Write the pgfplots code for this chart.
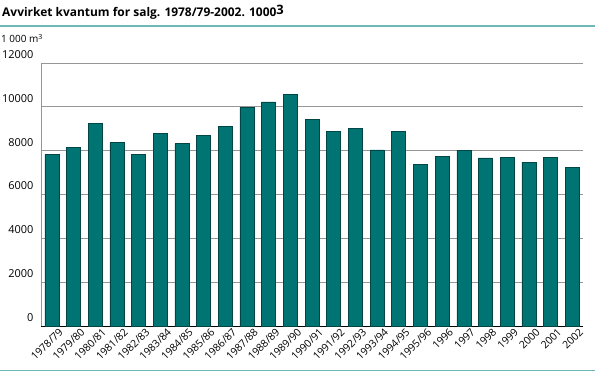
\documentclass[border=0pt]{standalone}
\usepackage{fontspec}
\setmainfont{Open Sans}
\usepackage{pgfplots}
\pgfplotsset{compat=1.18}
\definecolor{barfill}{RGB}{0,115,115}
\definecolor{baredge}{RGB}{0,70,70}
\definecolor{rulecol}{RGB}{110,185,185}
\definecolor{gridcol}{RGB}{150,150,150}
\begin{document}
\begin{tikzpicture}
\useasboundingbox (0,0) rectangle (595bp,372bp);
\node[anchor=base west, inner sep=0pt, font=\fontsize{12}{14}\selectfont\bfseries] at (2bp,355bp)
  {Avvirket kvantum for salg. 1978/79-2002. 1000\raisebox{0.45ex}{\fontsize{13}{14}\selectfont 3}};
\draw[rulecol, line width=1.5bp] (0,346bp) -- (595bp,346bp);
\draw[rulecol, line width=1.5bp] (0,1.5bp) -- (595bp,1.5bp);
\node[anchor=base west, inner sep=0pt, font=\fontsize{10}{12}\selectfont] at (1bp,329bp) {1 000 m\textsuperscript{3}};
\begin{axis}[
  at={(41bp,46bp)}, anchor=south west,
  scale only axis, width=542bp, height=263bp,
  ymin=0, ymax=12000, ytick={0,2000,...,12000},
  scaled y ticks=false,
  xmin=-0.5, xmax=24.5,
  xtick={0,...,24},
  xticklabels={1978/79,1979/80,1980/81,1981/82,1982/83,1983/84,1984/85,1985/86,1986/87,1987/88,1988/89,1989/90,1990/91,1991/92,1992/93,1993/94,1994/95,1995/96,1996,1997,1998,1999,2000,2001,2002},
  axis lines*=left,
  x axis line style={black, line width=1bp, -},
  y axis line style={gridcol, line width=0.8bp, -},
  ymajorgrids, grid style={gridcol, line width=0.8bp},
  major tick length=0pt,
  /pgf/number format/assume math mode=true,
  yticklabel={\pgfmathprintnumber[fixed, 1000 sep={}]{\tick}},
  yticklabel style={font=\fontsize{11}{12}\selectfont, anchor=east, xshift=-4bp, yshift=8.5bp},
  xticklabel style={font=\fontsize{10.5}{12}\selectfont, rotate=45, anchor=north east, xshift=7bp, yshift=-2bp},
  clip=false,
]
\addplot[ybar, bar width=14bp, fill=barfill, draw=baredge, line width=0.5bp] coordinates {
(0,7830) (1,8150) (2,9250) (3,8370) (4,7830) (5,8790) (6,8320) (7,8700) (8,9100)
(9,9980) (10,10230) (11,10560) (12,9440) (13,8890) (14,9020) (15,8040) (16,8870)
(17,7380) (18,7740) (19,8020) (20,7670) (21,7710) (22,7480) (23,7680) (24,7240)
};
\end{axis}
\end{tikzpicture}
\end{document}
